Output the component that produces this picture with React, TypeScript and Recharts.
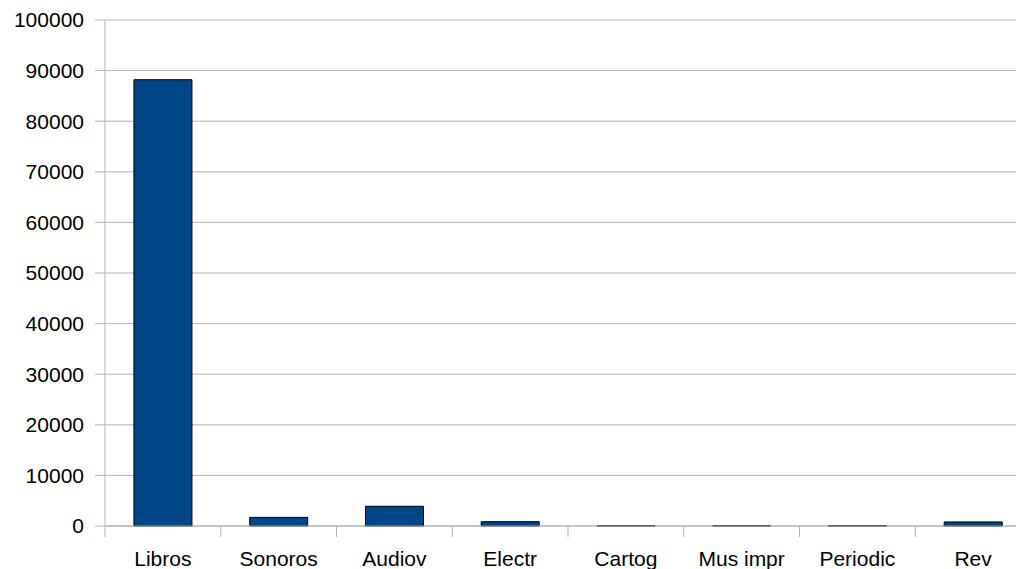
import React from "react";
import { BarChart, Bar, XAxis, YAxis, CartesianGrid } from "recharts";

const categories = ["Libros", "Sonoros", "Audiov", "Electr", "Cartog", "Mus impr", "Periodic", "Rev"];
const values = [88200, 1700, 3900, 850, 60, 60, 60, 800];
const yTicks = [0, 10000, 20000, 30000, 40000, 50000, 60000, 70000, 80000, 90000, 100000];
const boundaryTicks = [0, 1, 2, 3, 4, 5, 6, 7, 8];

const data = categories.map((name, i) => ({ name, value: values[i], pos: i + 0.5 }));

const FONT = "'Liberation Sans', Arial, sans-serif";

export default function App() {
  return (
    <div style={{ position: "absolute", left: 0, top: 0, width: 1016, height: 569, overflow: "hidden", background: "#fff" }}>
      <BarChart
        width={1031}
        height={569}
        data={data}
        margin={{ top: 20, right: 0, left: 0, bottom: 0 }}
        barCategoryGap="25%"
      >
        <CartesianGrid vertical={false} xAxisId="z" stroke="#b3b3b3" strokeWidth={1} />
        <XAxis
          xAxisId="a"
          type="number"
          dataKey="pos"
          domain={[0, 8]}
          ticks={boundaryTicks}
          interval={0}
          height={1}
          tickFormatter={() => ""}
          tick={{ fontSize: 1 }}
          tickSize={11}
          tickLine={{ stroke: "#b3b3b3" }}
          axisLine={{ stroke: "#b3b3b3" }}
          allowDataOverflow
        />
        <XAxis
          xAxisId="z"
          dataKey="name"
          height={42}
          axisLine={false}
          tickLine={false}
          tickSize={0}
          tickMargin={24}
          interval={0}
          tick={{ fill: "#000", fontSize: 21, fontFamily: FONT }}
        />
        <YAxis
          width={105}
          domain={[0, 100000]}
          ticks={yTicks}
          interval={0}
          tickSize={10}
          tickMargin={11}
          axisLine={{ stroke: "#b3b3b3" }}
          tickLine={{ stroke: "#b3b3b3" }}
          tick={{ fill: "#000", fontSize: 21, fontFamily: FONT }}
        />
        <Bar dataKey="value" xAxisId="z" fill="#004586" stroke="#000" strokeWidth={1} isAnimationActive={false} />
      </BarChart>
    </div>
  );
}
